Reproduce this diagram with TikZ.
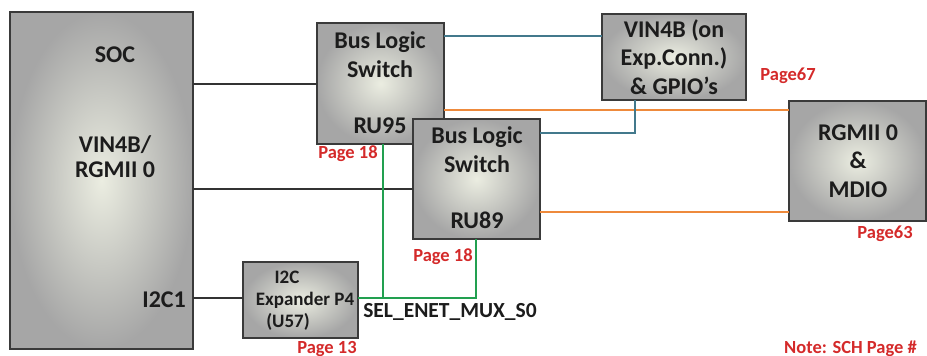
\documentclass[tikz,border=0pt]{standalone}
\usepackage{fontspec}
\setmainfont{Carlito}
\definecolor{edge}{HTML}{3A3A3A}
\definecolor{boxin}{HTML}{EBEDE1}
\definecolor{boxout}{HTML}{A6A6A6}
\definecolor{pagered}{HTML}{D42A2A}
\definecolor{wireorange}{HTML}{EE8A3C}
\definecolor{wireteal}{HTML}{43798C}
\definecolor{wiregreen}{HTML}{22A050}
\definecolor{wiredark}{HTML}{333333}
\definecolor{ink}{HTML}{1C1C1C}
\begin{document}
\begin{tikzpicture}[x=1pt,y=-1pt,
  block/.style={draw=edge, line width=1.5pt, inner color=boxin, outer color=boxout,
    rectangle, inner sep=0pt, outer sep=0pt, anchor=north west},
  big/.style={font=\fontsize{24}{28}\selectfont\bfseries, text=ink, inner sep=0pt, anchor=base},
  small/.style={font=\fontsize{19}{22}\selectfont\bfseries, text=ink, inner sep=0pt, anchor=base},
  pagenote/.style={font=\fontsize{18.5}{22}\selectfont\bfseries, text=pagered, inner sep=0pt, anchor=base},
  darkwire/.style={draw=wiredark, line width=1.8pt},
  tealwire/.style={draw=wireteal, line width=1.8pt},
  orangewire/.style={draw=wireorange, line width=1.8pt},
  greenwire/.style={draw=wiregreen, line width=1.8pt}]
\useasboundingbox (0,0) rectangle (927,356);

% blocks
\node[block, minimum width=183pt, minimum height=337pt] (soc) at (10,12) {};
\node[block, minimum width=127pt, minimum height=121pt] (ru95) at (317,23) {};
\node[block, minimum width=144pt, minimum height=86pt] (vin) at (602,14) {};
\node[block, minimum width=137pt, minimum height=120pt] (rgmii) at (789,101) {};
\node[block, minimum width=115pt, minimum height=76pt] (i2c) at (243,262) {};

% wire levels
\coordinate (ya) at (0,84);
\coordinate (yb) at (0,189);
\coordinate (yc) at (0,298);
\coordinate (yt1) at (0,36);
\coordinate (yt2) at (0,133);
\coordinate (yo1) at (0,110);
\coordinate (yo2) at (0,212);
\coordinate (xt) at (635,0);
\coordinate (xg1) at (383,0);
\coordinate (xg2) at (476,0);

% wires running under the second switch
\draw[darkwire] (soc.east |- ya) -- (ru95.west |- ya);
\draw[darkwire] (soc.east |- yc) -- (i2c.west |- yc);
\draw[tealwire] (ru95.east |- yt1) -- (vin.west |- yt1);
\draw[orangewire] (ru95.east |- yo1) -- (rgmii.west |- yo1);

\node[block, minimum width=127pt, minimum height=120pt] (ru89) at (413,119) {};

\draw[darkwire] (soc.east |- yb) -- (ru89.west |- yb);
\draw[tealwire] (ru89.east |- yt2) -- (xt |- yt2) -- (vin.south -| xt);
\draw[orangewire] (ru89.east |- yo2) -- (rgmii.west |- yo2);
\draw[greenwire] (i2c.east |- yc) -- (xg2 |- yc) -- (ru89.south -| xg2);
\draw[greenwire] (xg1 |- yc) -- (ru95.south -| xg1);

% SoC labels
\node[big] (socT) at (115,62) {SOC};
\node[big] (socA) at (115,152) {VIN4B/};
\node[big] (socB) at (115,177) {RGMII 0};
\node[big, anchor=base east] (socC) at (186,307) {I2C1};

% switch labels
\node[big] (s1a) at (380,48) {Bus Logic};
\node[big] (s1b) at (380,77) {Switch};
\node[big] (s1c) at (380,133) {RU95};
\node[big] (s2a) at (477,143) {Bus Logic};
\node[big] (s2b) at (477,172) {Switch};
\node[big] (s2c) at (477,228) {RU89};

% expansion connector labels
\node[big] (v1) at (674,37) {VIN4B (on};
\node[big] (v2) at (674,65) {Exp.Conn.)};
\node[big] (v3) at (674,94) {\& GPIO’s};

% ethernet labels
\node[big] (r1) at (858,140) {RGMII 0};
\node[big] (r2) at (858,168) {\&};
\node[big] (r3) at (858,197) {MDIO};

% expander labels
\node[small] (e1) at (287,283) {I2C};
\node[small] (e2) at (305,305) {Expander P4};
\node[small] (e3) at (288,327) {(U57)};
\node[big, font=\fontsize{21.5}{25}\selectfont\bfseries] (sel) at (450,317) {SEL\_ENET\_MUX\_S0};

% schematic page references
\node[pagenote] (p1) at (348,158) {Page 18};
\node[pagenote] (p2) at (443,261) {Page 18};
\node[pagenote] (p3) at (327,353) {Page 13};
\node[pagenote] (p4) at (788,80) {Page67};
\node[pagenote] (p5) at (885,238) {Page63};
\node[pagenote, anchor=base east] (note) at (917,353) {Note: SCH Page \#};
\end{tikzpicture}
\end{document}
